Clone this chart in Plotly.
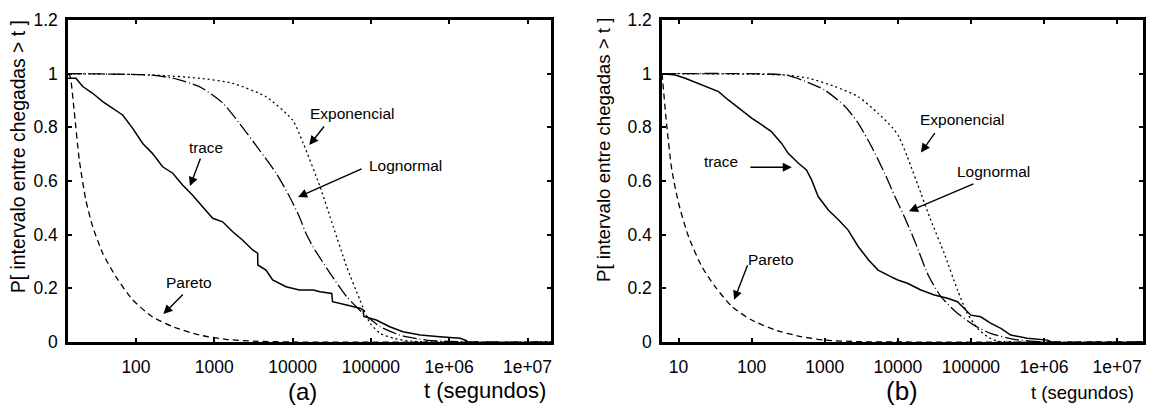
import plotly.graph_objects as go

W, H = 1158, 411

# ---------------- data (a) ----------------
t_exp_a = [13.5, 163, 646, 1720, 4570, 10000, 13700, 22400, 33100, 49000, 72400, 97700, 132000, 195000, 316000, 1e6, 2e7]
p_exp_a = [1.0, 0.995, 0.983, 0.964, 0.914, 0.827, 0.74, 0.579, 0.43, 0.281, 0.157, 0.07, 0.032, 0.014, 0.003, 0.0, 0.0]

t_log_a = [13.5, 148, 295, 646, 1290, 2290, 3760, 6170, 9120, 12200, 14800, 18200, 30200, 49000, 79400, 132000, 234000, 513000, 1e6, 3.2e6, 2e7]
p_log_a = [1.0, 0.995, 0.983, 0.952, 0.89, 0.80, 0.716, 0.629, 0.542, 0.467, 0.405, 0.355, 0.256, 0.169, 0.107, 0.057, 0.026, 0.007, 0.002, 0.0, 0.0]

t_par_a = [13.5, 14.4, 16.2, 18.9, 22.9, 28, 37.6, 55.6, 90.8, 162, 295, 646, 1410, 3160, 10000, 2e7]
p_par_a = [1.0, 0.99, 0.865, 0.678, 0.529, 0.43, 0.331, 0.243, 0.157, 0.094, 0.057, 0.026, 0.01, 0.003, 0.0, 0.0]

t_trc_a = [13.5, 17.1, 20.9, 28, 37.6, 50.1, 67.6, 90.8, 122, 162, 219, 295, 394, 525, 708, 955, 1280, 1720, 2290, 3090,
           3580, 3600, 4570, 5570, 8240, 12200, 18400, 22400, 31600, 32400, 49000, 72400, 79400, 81300, 117000, 174000,
           257000, 427000, 759000, 1380000, 1700000]
p_trc_a = [0.983, 0.983, 0.952, 0.927, 0.896, 0.871, 0.846, 0.796, 0.74, 0.703, 0.653, 0.629, 0.585, 0.548, 0.504, 0.461, 0.448, 0.411, 0.38, 0.343,
           0.331, 0.287, 0.268, 0.231, 0.206, 0.194, 0.194, 0.1875, 0.181, 0.15, 0.138, 0.126, 0.12, 0.095, 0.082, 0.057,
           0.038, 0.026, 0.02, 0.014, 0.004]

# ---------------- data (b) ----------------
t_exp_b = [5.93, 288, 603, 1380, 2880, 5370, 8380, 10350, 13500, 20700, 28200, 43100, 65500, 89100, 123000, 168000, 229000, 398000, 2.26e7]
p_exp_b = [1.0, 0.995, 0.983, 0.952, 0.914, 0.852, 0.80, 0.765, 0.69, 0.554, 0.455, 0.331, 0.194, 0.107, 0.051, 0.02, 0.003, 0.0, 0.0]

t_log_b = [5.93, 288, 479, 1000, 1910, 2880, 4370, 6610, 9120, 12600, 17400, 26000, 38900, 65500, 110000, 186000, 389000, 724000, 1.6e6, 2.26e7]
p_log_b = [1.0, 0.995, 0.977, 0.939, 0.877, 0.815, 0.728, 0.629, 0.542, 0.46, 0.37, 0.25, 0.169, 0.107, 0.063, 0.032, 0.01, 0.002, 0.0, 0.0]

t_par_b = [5.93, 6.04, 6.92, 8.09, 10, 13.7, 20.8, 31.6, 53.7, 100, 209, 479, 1000, 3160, 10000, 2.26e7]
p_par_b = [1.0, 0.977, 0.80, 0.641, 0.517, 0.392, 0.281, 0.206, 0.132, 0.082, 0.045, 0.02, 0.007, 0.001, 0.0, 0.0]

t_trc_b = [5.93, 9.0, 12.3, 20.9, 35.2, 47.9, 66.1, 100, 138, 186, 257, 316, 437, 562, 661, 813, 1120, 1550, 2090, 2880,
           3980, 5370, 8130, 10000, 13500, 20700, 31600, 47900, 65500, 81300, 100000, 136000, 186000, 257000, 351000,
           589000, 1120000, 1260000]
p_trc_b = [1.0, 0.995, 0.983, 0.958, 0.933, 0.902, 0.871, 0.834, 0.809, 0.784, 0.74, 0.703, 0.666, 0.641, 0.604, 0.542, 0.492, 0.455, 0.417, 0.355,
           0.306, 0.268, 0.243, 0.231, 0.219, 0.194, 0.175, 0.163, 0.15, 0.126, 0.10, 0.094, 0.07, 0.051, 0.026,
           0.014, 0.007, 0.0]

y_ticks = [0, 0.2, 0.4, 0.6, 0.8, 1.0, 1.2]
y_labels = ["0", "0.2", "0.4", "0.6", "0.8", "1", "1.2"]
x_ticks_a = [100, 1000, 10000, 100000, 1e6, 1e7]
x_labels_a = ["100", "1000", "10000", "100000", "1e+06", "1e+07"]
x_ticks_b = [10, 100, 1000, 10000, 100000, 1e6, 1e7]
x_labels_b = ["10", "100", "1000", "10000", "100000", "1e+06", "1e+07"]

FONT = "Liberation Sans, Arial, Helvetica, sans-serif"

fig = go.Figure()

def add_curves(xa, ya, te, pe, tl, pl, tp, pp, tt, pt):
    fig.add_trace(go.Scatter(x=te, y=pe, mode="lines", xaxis=xa, yaxis=ya, name="Exponencial",
                             line=dict(color="black", width=1.3, dash="2px,3px", shape="spline", smoothing=0.6)))
    fig.add_trace(go.Scatter(x=tl, y=pl, mode="lines", xaxis=xa, yaxis=ya, name="Lognormal",
                             line=dict(color="black", width=1.3, dash="14px,3px,1px,3px", shape="spline", smoothing=0.6)))
    fig.add_trace(go.Scatter(x=tp, y=pp, mode="lines", xaxis=xa, yaxis=ya, name="Pareto",
                             line=dict(color="black", width=1.3, dash="6px,4px", shape="spline", smoothing=0.6)))
    fig.add_trace(go.Scatter(x=tt, y=pt, mode="lines", xaxis=xa, yaxis=ya, name="trace",
                             line=dict(color="black", width=1.5)))

add_curves("x", "y", t_exp_a, p_exp_a, t_log_a, p_log_a, t_par_a, p_par_a, t_trc_a, p_trc_a)
add_curves("x2", "y2", t_exp_b, p_exp_b, t_log_b, p_log_b, t_par_b, p_par_b, t_trc_b, p_trc_b)

def xaxis_cfg(dom, rng, tv, tt, anchor):
    return dict(type="log", domain=dom, range=rng, tickmode="array", tickvals=tv, ticktext=tt,
                ticks="inside", ticklen=4, tickwidth=1.5, tickcolor="black", anchor=anchor,
                showline=True, linewidth=2.5, linecolor="black", mirror="allticks",
                showgrid=False, zeroline=False, automargin=False, ticklabelstandoff=7,
                tickfont=dict(family=FONT, size=17.5, color="black"))

def yaxis_cfg(dom, anchor):
    return dict(domain=dom, range=[0, 1.2], tickmode="array", tickvals=y_ticks, ticktext=y_labels,
                ticks="inside", ticklen=4, tickwidth=1.5, tickcolor="black",
                showline=True, linewidth=2.5, linecolor="black", mirror="allticks",
                showgrid=False, zeroline=False, automargin=False, anchor=anchor, ticklabelstandoff=4,
                tickfont=dict(family=FONT, size=17.5, color="black"))

ydom = [1 - 342 / H, 1 - 20 / H]
fig.update_layout(
    width=W, height=H, margin=dict(l=0, r=0, t=0, b=0),
    paper_bgcolor="white", plot_bgcolor="white", showlegend=False,
    xaxis=xaxis_cfg([68 / W, 551 / W], [1.132, 7.30], x_ticks_a, x_labels_a, "y"),
    yaxis=yaxis_cfg(ydom, "x"),
    xaxis2=xaxis_cfg([662 / W, 1143 / W], [0.773, 7.355], x_ticks_b, x_labels_b, "y2"),
    yaxis2=yaxis_cfg(ydom, "x2"),
    font=dict(family=FONT, color="black"),
)

def ptext(x, y, text, size, angle=0):
    fig.add_annotation(x=x / W, y=1 - y / H, xref="paper", yref="paper", text=text, showarrow=False,
                       textangle=angle, font=dict(family=FONT, size=size, color="black"),
                       xanchor="center", yanchor="middle")

# axis titles and panel labels
ytitle = "P[ intervalo entre chegadas &gt; t ]"
ptext(18, 157, ytitle, 19.3, -90)
ptext(603, 150, ytitle, 18.7, -90)
ptext(302, 391, "(a)", 24)
ptext(902, 391, "(b)", 26)
ptext(485, 390, "t (segundos)", 22)
ptext(1082, 392, "t (segundos)", 18.5)

# curve labels
ptext(206, 147, "trace", 15.3)
ptext(189, 282, "Pareto", 15.5)
ptext(352, 113, "Exponencial", 15.5)
ptext(405, 165, "Lognormal", 15.5)
ptext(721, 162, "trace", 15.3)
ptext(771, 259, "Pareto", 15.5)
ptext(962, 120, "Exponencial", 15.5)
ptext(993, 172, "Lognormal", 15.5)

def arrow(xr, yr, hx, hy, ax, ay):
    fig.add_annotation(x=hx, y=hy, xref=xr, yref=yr, ax=ax, ay=ay, axref="pixel", ayref="pixel",
                       text="", showarrow=True, arrowhead=2, arrowsize=1.3, arrowwidth=1.4,
                       arrowcolor="black")

# panel (a) arrows (head position in axis units: log10(t), P)
arrow("x", "y", 2.69, 0.581, 11, -29)
arrow("x", "y", 2.35, 0.104, 21, -21)
arrow("x", "y", 4.213, 0.734, 16, -20)
arrow("x", "y", 4.07, 0.540, 65, -29)
# panel (b) arrows
arrow("x2", "y2", 2.55, 0.651, -43, 0)
arrow("x2", "y2", 1.76, 0.157, 14, -36)
arrow("x2", "y2", 4.316, 0.706, 15, -21)
arrow("x2", "y2", 4.152, 0.487, 66, -28)

fig.write_html("out.html")
